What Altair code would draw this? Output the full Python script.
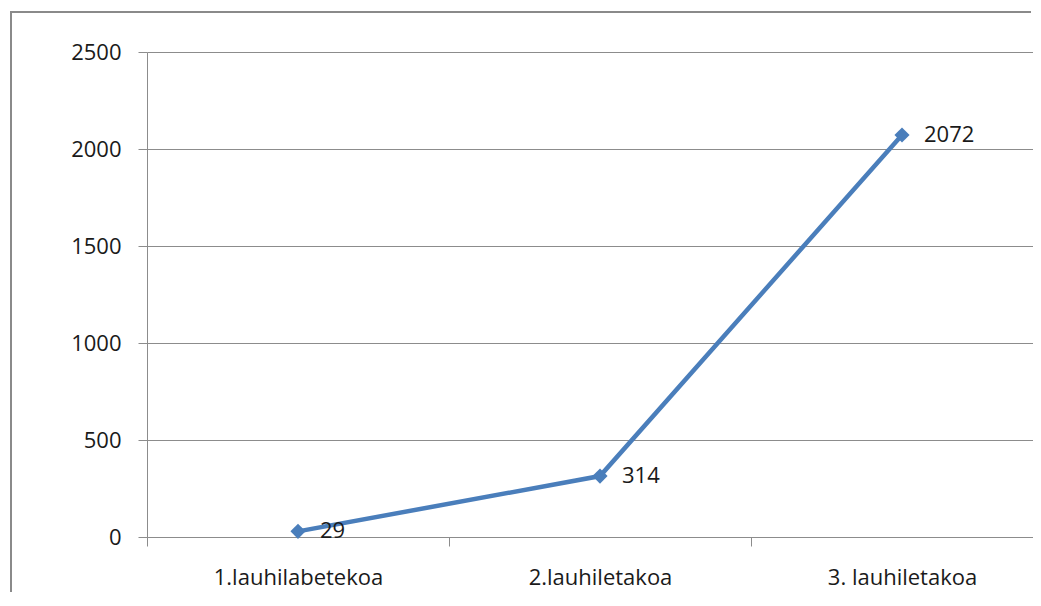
import altair as alt
import pandas as pd

categories = ["1.lauhilabetekoa", "2.lauhiletakoa", "3. lauhiletakoa"]
values = [29, 314, 2072]
y_ticks = [0, 500, 1000, 1500, 2000, 2500]

df = pd.DataFrame({"cat": categories, "val": values})

FONT = "Open Sans"
BLUE = "#4A7EBB"
GRAY = "#8c8c8c"
FS = 22

x_enc = alt.X(
    "cat:N",
    type="nominal",
    sort=categories,
    scale=alt.Scale(type="band", range=[0, 906], paddingInner=0, paddingOuter=0),
    axis=alt.Axis(
        title=None,
        labelAngle=0,
        tickBand="extent",
        tickSize=9,
        tickColor=GRAY,
        domainColor=GRAY,
        labelPadding=21,
        labelFont=FONT,
        labelFontSize=FS,
        labelColor="#1a1a1a",
        grid=False,
    ),
)
y_enc = alt.Y(
    "val:Q",
    scale=alt.Scale(domain=[0, 2500], nice=False),
    axis=alt.Axis(
        title=None,
        values=y_ticks,
        format="d",
        grid=True,
        gridColor=GRAY,
        tickSize=9,
        tickColor=GRAY,
        domainColor=GRAY,
        labelPadding=17,
        labelFont=FONT,
        labelFontSize=FS,
        labelColor="#1a1a1a",
    ),
)

base = alt.Chart(df)
line = base.mark_line(color=BLUE, strokeWidth=4.5).encode(x=x_enc, y=y_enc)
points = base.mark_point(shape="diamond", filled=True, size=230, color=BLUE, opacity=1).encode(x=x_enc, y=y_enc)
labels = base.mark_text(align="left", baseline="middle", dx=22, font=FONT, fontSize=FS, color="#1a1a1a").encode(
    x=x_enc, y=y_enc, text="val:Q"
)

frame_data = pd.DataFrame({"a": [0]})
frame_left = alt.Chart(frame_data).mark_rect(color="#8a8a8a", strokeWidth=0).encode(
    x=alt.value(-137), x2=alt.value(-135), y=alt.value(-41), y2=alt.value(540)
)
frame_top = alt.Chart(frame_data).mark_rect(color="#8a8a8a", strokeWidth=0).encode(
    x=alt.value(-137), x2=alt.value(884), y=alt.value(-41), y2=alt.value(-39)
)

chart = alt.layer(frame_left, frame_top, line, points, labels).properties(
    width=886,
    height=485,
    autosize=alt.AutoSizeParams(type="none"),
    padding={"left": 139, "top": 44, "right": 0, "bottom": 55},
).configure_view(strokeWidth=0)

chart.save("out.html", embed_options={"renderer": "svg", "actions": False})
